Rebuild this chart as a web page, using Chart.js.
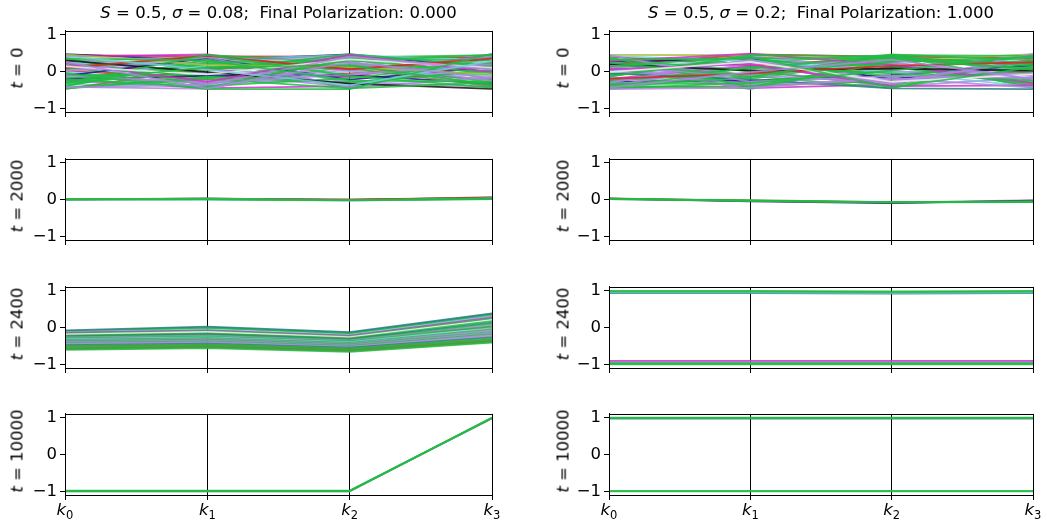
<!DOCTYPE html>
<html>
<head>
<meta charset="utf-8">
<script src="https://cdn.jsdelivr.net/npm/chart.js@4.4.1/dist/chart.umd.min.js"></script>
<style>
body { margin: 0; background: #fff; width: 1047px; height: 525px; position: relative; overflow: hidden; font-family: "DejaVu Sans", sans-serif; color: #000; }
canvas { position: absolute; }
.title { position: absolute; font-size: 16.5px; white-space: pre; transform: translate(-50%, -50%); }
.ylab { position: absolute; font-size: 16.5px; white-space: pre; transform: translate(-50%, -50%) rotate(-90deg); }
</style>
</head>
<body>
<script>
// axis names
const axes = ['k0', 'k1', 'k2', 'k3']
const yTicks = [-1, 0, 1]
const rowLabels = ['0', '2000', '2400', '10000']
const titles = [
	['S', '0.5', '0.08', '0.000'],
	['S', '0.5', '0.2', '1.000']
]

// left column, t = 0
const leftT0 = [
	[0.44, 0.41, 0.40, 0.36], [0.47, 0.30, 0.46, 0.10], [0.40, 0.46, 0.02, -0.22], [0.33, 0.12, 0.38, 0.44],
	[0.28, 0.40, -0.30, 0.05], [0.25, -0.18, 0.20, -0.38], [0.21, 0.33, 0.44, 0.30], [0.18, -0.05, -0.42, 0.42],
	[0.15, 0.22, 0.10, -0.10], [0.12, -0.35, 0.30, 0.18], [0.09, 0.05, -0.15, 0.47], [0.06, 0.44, 0.25, -0.30],
	[0.03, -0.22, -0.05, 0.22], [0.00, 0.28, 0.36, -0.45], [-0.03, -0.42, 0.14, 0.00], [-0.06, 0.15, -0.35, 0.33],
	[-0.09, -0.10, 0.42, -0.20], [-0.12, 0.36, -0.22, 0.12], [-0.15, -0.30, 0.05, 0.40], [-0.18, 0.08, 0.31, -0.05],
	[-0.21, -0.12, -0.10, -0.33], [-0.24, -0.45, -0.40, 0.26], [-0.27, 0.20, 0.18, 0.08], [-0.30, -0.25, -0.28, -0.42],
	[-0.33, 0.02, 0.47, 0.15], [-0.36, -0.38, 0.00, -0.12], [-0.39, 0.32, -0.46, 0.38], [-0.42, -0.47, 0.22, -0.25],
	[-0.45, -0.15, -0.30, 0.02], [-0.48, 0.10, 0.09, -0.40], [0.37, -0.40, -0.18, 0.25], [0.02, 0.38, -0.44, -0.15],
	[-0.40, 0.25, 0.28, 0.45], [0.30, -0.02, -0.33, -0.47], [-0.20, -0.44, 0.35, 0.30], [0.46, 0.18, 0.12, -0.08],
	[-0.10, -0.32, -0.08, 0.20], [0.10, 0.42, 0.06, 0.35], [-0.46, -0.20, -0.46, -0.30], [0.22, -0.28, 0.45, -0.02],
	[-0.32, 0.45, -0.12, -0.44], [0.14, -0.08, 0.33, 0.10], [-0.44, -0.36, 0.40, 0.05], [0.35, 0.30, -0.25, -0.28],
	[-0.05, -0.48, -0.48, 0.48], [0.42, 0.05, -0.38, 0.28], [-0.28, 0.12, 0.16, -0.36], [0.26, -0.46, 0.26, -0.18]
]
// right column, t = 0
const rightT0 = [
	[0.40, 0.16, 0.38, 0.22], [0.18, 0.46, 0.40, 0.36], [0.45, 0.44, 0.28, 0.47], [0.30, -0.10, 0.42, -0.25],
	[0.26, 0.35, -0.20, 0.15], [0.22, -0.30, 0.10, 0.40], [0.12, 0.25, 0.45, -0.05], [0.08, -0.45, -0.35, 0.30],
	[0.04, 0.10, 0.20, -0.40], [0.00, 0.40, -0.05, 0.12], [-0.04, -0.20, 0.32, 0.25], [-0.08, 0.05, -0.42, -0.15],
	[-0.12, 0.30, 0.15, -0.30], [-0.16, -0.38, 0.05, 0.45], [-0.20, 0.15, -0.30, 0.05], [-0.24, -0.05, 0.38, -0.45],
	[-0.28, -0.25, -0.10, 0.18], [-0.32, 0.42, 0.00, -0.10], [-0.36, -0.12, -0.45, 0.35], [-0.40, 0.22, 0.25, -0.22],
	[-0.44, -0.40, -0.25, 0.00], [-0.47, -0.30, 0.12, -0.35], [0.35, 0.00, -0.38, 0.10], [0.15, -0.48, 0.22, -0.12],
	[-0.10, 0.38, -0.15, 0.28], [0.42, 0.28, -0.02, -0.42], [-0.25, 0.08, 0.44, 0.42], [0.02, -0.35, -0.22, -0.05],
	[-0.42, -0.15, 0.35, 0.08], [0.28, 0.48, 0.18, -0.32], [-0.05, -0.22, -0.46, -0.48], [0.38, -0.42, 0.30, 0.20],
	[-0.30, 0.32, -0.35, 0.48], [0.20, 0.02, 0.08, 0.02], [-0.46, 0.12, -0.05, -0.25], [0.10, -0.10, -0.30, 0.32],
	[-0.15, 0.45, 0.40, 0.15], [0.44, -0.28, -0.12, -0.18], [-0.38, -0.46, 0.26, 0.38], [0.06, 0.20, -0.40, -0.38],
	[-0.20, -0.05, 0.15, 0.25], [0.32, 0.36, 0.36, 0.05], [-0.48, -0.44, -0.18, -0.44], [0.24, -0.15, 0.46, 0.30],
	[-0.02, 0.26, -0.28, -0.08], [-0.34, -0.32, 0.02, 0.42], [0.14, 0.40, -0.44, 0.12], [-0.44, -0.02, 0.32, -0.20]
]
const leftT2000 = [
	[0.00, 0.02, -0.01, 0.05], [0.00, 0.03, -0.02, 0.06], [0.00, 0.01, 0.00, 0.04], [0.00, 0.02, -0.03, 0.03],
	[0.00, 0.00, -0.03, 0.02], [0.00, 0.01, -0.02, 0.01], [0.00, 0.00, -0.01, 0.02], [0.00, 0.00, -0.02, 0.01]
]
const rightT2000 = [
	[0.01, -0.03, -0.09, -0.02], [0.02, -0.05, -0.10, -0.03], [0.03, -0.04, -0.08, -0.06], [0.01, -0.02, -0.07, -0.05],
	[0.02, -0.04, -0.08, -0.07], [0.02, -0.03, -0.07, -0.06], [0.01, -0.04, -0.08, -0.06]
]
const leftT2400 = [
	[-0.08, 0.02, -0.13, 0.38], [-0.10, 0.00, -0.15, 0.36], [-0.12, -0.02, -0.17, 0.33], [-0.13, -0.06, -0.20, 0.30],
	[-0.14, -0.08, -0.22, 0.27], [-0.17, -0.10, -0.24, 0.24], [-0.21, -0.17, -0.27, 0.00], [-0.19, -0.12, -0.26, 0.20],
	[-0.22, -0.16, -0.30, 0.17], [-0.24, -0.19, -0.32, 0.13], [-0.26, -0.21, -0.34, 0.10], [-0.28, -0.23, -0.36, 0.06],
	[-0.30, -0.25, -0.38, 0.03], [-0.32, -0.27, -0.40, -0.02], [-0.34, -0.29, -0.42, -0.05], [-0.36, -0.31, -0.44, -0.08],
	[-0.38, -0.33, -0.46, -0.12], [-0.40, -0.35, -0.48, -0.15], [-0.42, -0.38, -0.50, -0.18], [-0.44, -0.40, -0.52, -0.21],
	[-0.46, -0.42, -0.54, -0.24], [-0.48, -0.44, -0.55, -0.27], [-0.50, -0.46, -0.57, -0.30], [-0.52, -0.48, -0.59, -0.33],
	[-0.55, -0.50, -0.61, -0.35], [-0.57, -0.52, -0.62, -0.37], [-0.59, -0.54, -0.64, -0.39], [-0.61, -0.56, -0.66, -0.41]
]
const rightT2400 = [
	[-0.91, -0.91, -0.91, -0.91], [-0.95, -0.95, -0.95, -0.95], [-0.97, -0.97, -0.97, -0.97], [-0.99, -0.99, -0.99, -0.99],
	[-1.00, -1.00, -1.00, -1.00], [0.93, 0.93, 0.92, 0.93], [0.95, 0.95, 0.94, 0.95], [0.97, 0.97, 0.96, 0.97],
	[0.99, 0.99, 0.98, 0.99]
]
const leftT10000 = [
	[-0.99, -0.99, -0.99, 0.98], [-1.00, -1.00, -1.00, 0.99], [-0.99, -0.99, -0.99, 0.99], [-1.00, -1.00, -1.00, 1.00],
	[-0.98, -0.98, -0.98, 0.99]
]
const rightT10000 = [
	[0.97, 0.97, 0.97, 0.97], [0.99, 0.99, 0.99, 0.99], [1.00, 1.00, 1.00, 1.00], [-0.99, -0.99, -0.99, -0.99],
	[-1.00, -1.00, -1.00, -1.00]
]

// line colours, one letter per line
const palette = {
	g: 'rgba(34,187,68,0.85)', l: 'rgba(170,136,221,0.85)', m: 'rgba(204,51,204,0.85)',
	r: 'rgba(221,34,34,0.85)', n: 'rgba(27,23,128,0.85)', c: 'rgba(119,204,221,0.85)',
	o: 'rgba(85,146,58,0.85)', t: 'rgba(42,128,128,0.85)', k: 'rgba(17,17,17,0.85)',
	w: 'rgba(240,240,240,0.85)', y: 'rgba(168,192,64,0.85)'
}
const colLeftT0 = 'rnmglgclgomgrlgcgnlgnmglgcglgoglgkgylrgmgwlggcgl'
const colRightT0 = 'rrygnlgmgcglglmgnlglogglgcglgmtglkglglgmrglgwggl'
const colLeftT2000 = 'norlcggg'
const colRightT2000 = 'lnroggg'
const colLeftT2400 = 'ttgcmgrwgtglgcglglglltgogoog'
const colRightT2400 = 'mlgggtcgg'
const colLeftT10000 = 'tlggg'
const colRightT10000 = 'tgggg'

const panels = [
	[leftT0, colLeftT0], [rightT0, colRightT0],
	[leftT2000, colLeftT2000], [rightT2000, colRightT2000],
	[leftT2400, colLeftT2400], [rightT2400, colRightT2400],
	[leftT10000, colLeftT10000], [rightT10000, colRightT10000]
]

const colX = [15, 559]
const colW = [427, 424]
const rowY = [18, 146, 274, 401]
const FONT = '"DejaVu Sans", sans-serif'

// top/right spines, plus k labels with real subscripts on the bottom row
const frame = {
	id: 'frame',
	afterDraw(chart, args, opts) {
		const a = chart.chartArea, ctx = chart.ctx
		ctx.save()
		ctx.strokeStyle = '#000'
		ctx.lineWidth = 1
		ctx.strokeRect(Math.round(a.left) + 0.5, Math.round(a.top) + 0.5, Math.round(a.right - a.left), Math.round(a.bottom - a.top))
		if (opts.labels) {
			const xs = chart.scales.x
			ctx.fillStyle = '#000'
			ctx.textBaseline = 'alphabetic'
			xs.ticks.forEach((t, i) => {
				const lbl = axes[i]
				const x = xs.getPixelForTick(i)
				ctx.font = 'italic 16.5px ' + FONT
				const w1 = ctx.measureText(lbl[0]).width
				ctx.font = '11.5px ' + FONT
				const w2 = ctx.measureText(lbl.slice(1)).width
				const x0 = x - (w1 + w2) / 2
				const y = a.bottom + 20
				ctx.font = 'italic 16.5px ' + FONT
				ctx.fillText(lbl[0], x0, y)
				ctx.font = '11.5px ' + FONT
				ctx.fillText(lbl.slice(1), x0 + w1, y + 3.5)
			})
		}
		ctx.restore()
	}
}

panels.forEach(([lines, cols], i) => {
	const row = Math.floor(i / 2), col = i % 2
	const bottom = row === 3
	const c = document.createElement('canvas')
	c.width = 50 + colW[col] + 14
	c.height = 124
	c.style.left = colX[col] + 'px'
	c.style.top = rowY[row] + 'px'
	document.body.appendChild(c)
	// Chart.js paints dataset 0 on top, so reverse to keep list order = paint order
	const sets = lines.map((v, j) => ({
		data: v,
		borderColor: palette[cols[j]],
		borderWidth: 1.8,
		pointRadius: 0,
		tension: 0,
		fill: false
	})).reverse()
	new Chart(c, {
		type: 'line',
		data: { labels: axes, datasets: sets },
		options: {
			responsive: false,
			animation: false,
			events: [],
			layout: { padding: { left: 0, top: 6, right: 14, bottom: 0 } },
			plugins: { legend: { display: false }, tooltip: { enabled: false }, frame: { labels: bottom } },
			scales: {
				x: {
					type: 'category',
					offset: false,
					z: 1,
					grid: { color: '#000', lineWidth: 1, tickLength: 5, drawOnChartArea: true },
					border: { display: true, color: '#000', width: 1 },
					ticks: { display: false },
					afterFit: s => { s.height = 30 }
				},
				y: {
					min: -1.1,
					max: 1.1,
					grid: { drawOnChartArea: false, drawTicks: true, tickLength: 5, color: '#000' },
					border: { display: true, color: '#000', width: 1 },
					afterBuildTicks: s => { s.ticks = yTicks.map(v => ({ value: v })) },
					ticks: {
						color: '#000', padding: 3,
						font: { family: FONT, size: 16.5 },
						callback: v => v < 0 ? '−' + Math.abs(v) : String(v)
					},
					afterFit: s => { s.width = 50 }
				}
			}
		},
		plugins: [frame]
	})

	const lab = document.createElement('div')
	lab.className = 'ylab'
	lab.innerHTML = '<i>t</i> = ' + rowLabels[row]
	lab.style.left = (col === 0 ? 17 : 563) + 'px'
	lab.style.top = (rowY[row] + 6 + 44) + 'px'
	document.body.appendChild(lab)
})

titles.forEach((t, col) => {
	const d = document.createElement('div')
	d.className = 'title'
	d.innerHTML = '<i>' + t[0] + '</i> = ' + t[1] + ', <i>σ</i> = ' + t[2] + ';  Final Polarization: ' + t[3]
	d.style.left = (colX[col] + 50 + colW[col] / 2) + 'px'
	d.style.top = '12px'
	document.body.appendChild(d)
})
</script>
</body>
</html>
